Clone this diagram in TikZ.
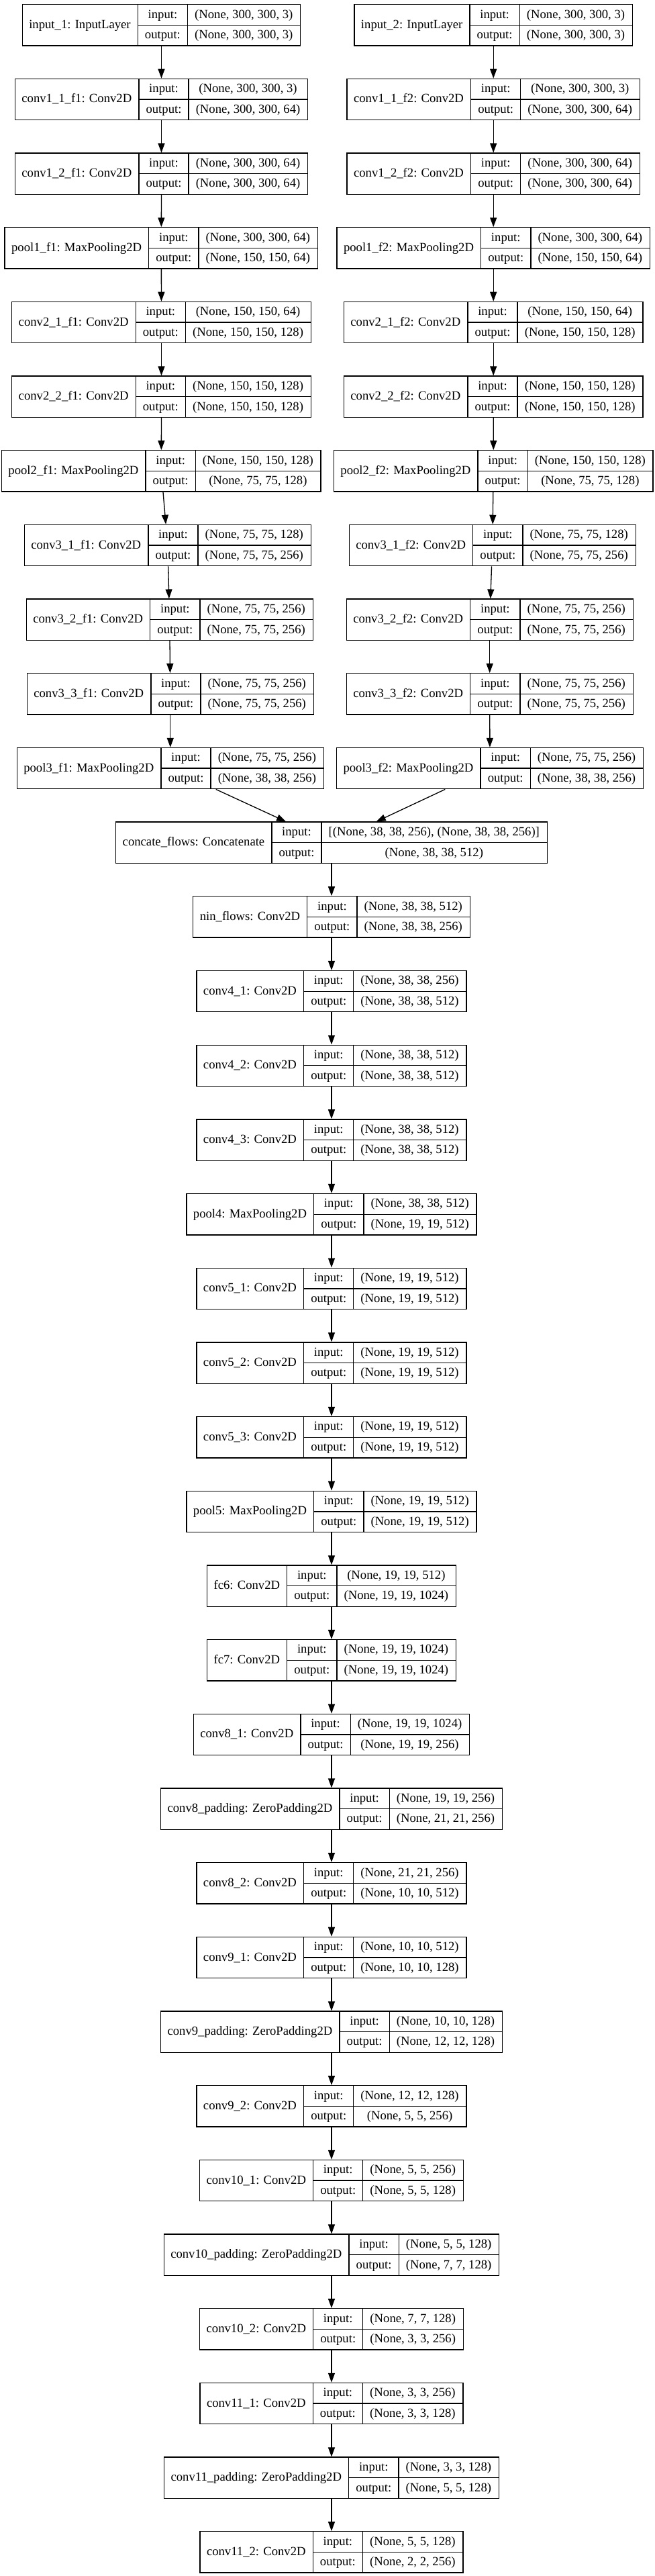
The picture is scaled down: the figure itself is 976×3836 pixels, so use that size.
\documentclass[tikz,border=0pt]{standalone}
\usepackage{fontspec}
\setmainfont{Liberation Serif}
\usetikzlibrary{arrows.meta}
\font\lfont="Liberation Serif" at 18.67pt
\newlength\lwa \newlength\lwb \newlength\lwc \newlength\lwd \newlength\lwt
% #1 node name, #2 centre x, #3 row index, #4 layer label, #5 input shape, #6 output shape
\newcommand\keraslayer[6]{%
  \settowidth\lwa{\lfont #4}\addtolength\lwa{21.3pt}%
  \settowidth\lwb{\lfont output:}\addtolength\lwb{21.3pt}%
  \settowidth\lwc{\lfont #5}\settowidth\lwd{\lfont #6}%
  \ifdim\lwd>\lwc \lwc=\lwd\fi
  \addtolength\lwc{21.3pt}%
  \lwt=\lwa \advance\lwt\lwb \advance\lwt\lwc
  \pgfmathsetmacro\toprow{6+110.68*#3}%
  \node[layerbox, minimum width=\lwt, anchor=north] (#1) at (#2,-\toprow) {};
  \draw[cellline] ([xshift=\lwa]#1.north west) -- ([xshift=\lwa]#1.south west);
  \draw[cellline] ([xshift=\lwa+\lwb]#1.north west) -- ([xshift=\lwa+\lwb]#1.south west);
  \draw[cellline] ([xshift=\lwa]#1.west) -- (#1.east);
  \node[txt] (#1-name) at ([xshift=0.5*\lwa, yshift=-5pt]#1.west) {#4};
  \node[txt] (#1-ik) at ([xshift=\lwa+0.5*\lwb, yshift=10.3pt]#1.west) {input:};
  \node[txt] (#1-ok) at ([xshift=\lwa+0.5*\lwb, yshift=-20.3pt]#1.west) {output:};
  \node[txt] (#1-iv) at ([xshift=\lwa+\lwb+0.5*\lwc, yshift=10.3pt]#1.west) {#5};
  \node[txt] (#1-ov) at ([xshift=\lwa+\lwb+0.5*\lwc, yshift=-20.3pt]#1.west) {#6};
}
\begin{document}
\begin{tikzpicture}[x=1pt,y=1pt,
  layerbox/.style={draw=black, line width=1.3pt, rectangle, inner sep=0pt, minimum height=61.3pt},
  cellline/.style={line width=1.3pt},
  txt/.style={font=\lfont, inner sep=0pt, anchor=base},
  edge/.style={line width=1.3pt, -{Triangle[length=14pt,width=10pt]}}]
\useasboundingbox[fill=white] (0,0) rectangle (976,-3836);

% ---- flow 1 ----
\keraslayer{inA}{240.5}{0}{input\_1: InputLayer}{(None, 300, 300, 3)}{(None, 300, 300, 3)}
\keraslayer{caA}{240.5}{1}{conv1\_1\_f1: Conv2D}{(None, 300, 300, 3)}{(None, 300, 300, 64)}
\keraslayer{cbA}{240.5}{2}{conv1\_2\_f1: Conv2D}{(None, 300, 300, 64)}{(None, 300, 300, 64)}
\keraslayer{paA}{240.3}{3}{pool1\_f1: MaxPooling2D}{(None, 300, 300, 64)}{(None, 150, 150, 64)}
\keraslayer{ccA}{240.5}{4}{conv2\_1\_f1: Conv2D}{(None, 150, 150, 64)}{(None, 150, 150, 128)}
\keraslayer{cdA}{240.5}{5}{conv2\_2\_f1: Conv2D}{(None, 150, 150, 128)}{(None, 150, 150, 128)}
\keraslayer{pbA}{240.3}{6}{pool2\_f1: MaxPooling2D}{(None, 150, 150, 128)}{(None, 75, 75, 128)}
\keraslayer{ceA}{249.8}{7}{conv3\_1\_f1: Conv2D}{(None, 75, 75, 128)}{(None, 75, 75, 256)}
\keraslayer{cfA}{252.7}{8}{conv3\_2\_f1: Conv2D}{(None, 75, 75, 256)}{(None, 75, 75, 256)}
\keraslayer{cgA}{253.8}{9}{conv3\_3\_f1: Conv2D}{(None, 75, 75, 256)}{(None, 75, 75, 256)}
\keraslayer{pcA}{253.8}{10}{pool3\_f1: MaxPooling2D}{(None, 75, 75, 256)}{(None, 38, 38, 256)}

% ---- flow 2 ----
\keraslayer{inB}{735.2}{0}{input\_2: InputLayer}{(None, 300, 300, 3)}{(None, 300, 300, 3)}
\keraslayer{caB}{735.2}{1}{conv1\_1\_f2: Conv2D}{(None, 300, 300, 3)}{(None, 300, 300, 64)}
\keraslayer{cbB}{735.2}{2}{conv1\_2\_f2: Conv2D}{(None, 300, 300, 64)}{(None, 300, 300, 64)}
\keraslayer{paB}{735.2}{3}{pool1\_f2: MaxPooling2D}{(None, 300, 300, 64)}{(None, 150, 150, 64)}
\keraslayer{ccB}{735.2}{4}{conv2\_1\_f2: Conv2D}{(None, 150, 150, 64)}{(None, 150, 150, 128)}
\keraslayer{cdB}{735.2}{5}{conv2\_2\_f2: Conv2D}{(None, 150, 150, 128)}{(None, 150, 150, 128)}
\keraslayer{pbB}{735.3}{6}{pool2\_f2: MaxPooling2D}{(None, 150, 150, 128)}{(None, 75, 75, 128)}
\keraslayer{ceB}{733.7}{7}{conv3\_1\_f2: Conv2D}{(None, 75, 75, 128)}{(None, 75, 75, 256)}
\keraslayer{cfB}{729.7}{8}{conv3\_2\_f2: Conv2D}{(None, 75, 75, 256)}{(None, 75, 75, 256)}
\keraslayer{cgB}{729.7}{9}{conv3\_3\_f2: Conv2D}{(None, 75, 75, 256)}{(None, 75, 75, 256)}
\keraslayer{pcB}{730}{10}{pool3\_f2: MaxPooling2D}{(None, 75, 75, 256)}{(None, 38, 38, 256)}

% ---- merged trunk ----
\def\mx{494}
\keraslayer{cat}{\mx}{11}{concate\_flows: Concatenate}{[(None, 38, 38, 256), (None, 38, 38, 256)]}{(None, 38, 38, 512)}
\keraslayer{nin}{\mx}{12}{nin\_flows: Conv2D}{(None, 38, 38, 512)}{(None, 38, 38, 256)}
\keraslayer{cfa}{\mx}{13}{conv4\_1: Conv2D}{(None, 38, 38, 256)}{(None, 38, 38, 512)}
\keraslayer{cfb}{\mx}{14}{conv4\_2: Conv2D}{(None, 38, 38, 512)}{(None, 38, 38, 512)}
\keraslayer{cfc}{\mx}{15}{conv4\_3: Conv2D}{(None, 38, 38, 512)}{(None, 38, 38, 512)}
\keraslayer{pfour}{\mx}{16}{pool4: MaxPooling2D}{(None, 38, 38, 512)}{(None, 19, 19, 512)}
\keraslayer{cva}{\mx}{17}{conv5\_1: Conv2D}{(None, 19, 19, 512)}{(None, 19, 19, 512)}
\keraslayer{cvb}{\mx}{18}{conv5\_2: Conv2D}{(None, 19, 19, 512)}{(None, 19, 19, 512)}
\keraslayer{cvc}{\mx}{19}{conv5\_3: Conv2D}{(None, 19, 19, 512)}{(None, 19, 19, 512)}
\keraslayer{pfive}{\mx}{20}{pool5: MaxPooling2D}{(None, 19, 19, 512)}{(None, 19, 19, 512)}
\keraslayer{fcsix}{\mx}{21}{fc6: Conv2D}{(None, 19, 19, 512)}{(None, 19, 19, 1024)}
\keraslayer{fcseven}{\mx}{22}{fc7: Conv2D}{(None, 19, 19, 1024)}{(None, 19, 19, 1024)}
\keraslayer{ceia}{\mx}{23}{conv8\_1: Conv2D}{(None, 19, 19, 1024)}{(None, 19, 19, 256)}
\keraslayer{ceip}{\mx}{24}{conv8\_padding: ZeroPadding2D}{(None, 19, 19, 256)}{(None, 21, 21, 256)}
\keraslayer{ceib}{\mx}{25}{conv8\_2: Conv2D}{(None, 21, 21, 256)}{(None, 10, 10, 512)}
\keraslayer{cnia}{\mx}{26}{conv9\_1: Conv2D}{(None, 10, 10, 512)}{(None, 10, 10, 128)}
\keraslayer{cnip}{\mx}{27}{conv9\_padding: ZeroPadding2D}{(None, 10, 10, 128)}{(None, 12, 12, 128)}
\keraslayer{cnib}{\mx}{28}{conv9\_2: Conv2D}{(None, 12, 12, 128)}{(None, 5, 5, 256)}
\keraslayer{ctea}{\mx}{29}{conv10\_1: Conv2D}{(None, 5, 5, 256)}{(None, 5, 5, 128)}
\keraslayer{ctep}{\mx}{30}{conv10\_padding: ZeroPadding2D}{(None, 5, 5, 128)}{(None, 7, 7, 128)}
\keraslayer{cteb}{\mx}{31}{conv10\_2: Conv2D}{(None, 7, 7, 128)}{(None, 3, 3, 256)}
\keraslayer{cela}{\mx}{32}{conv11\_1: Conv2D}{(None, 3, 3, 256)}{(None, 3, 3, 128)}
\keraslayer{celp}{\mx}{33}{conv11\_padding: ZeroPadding2D}{(None, 3, 3, 128)}{(None, 5, 5, 128)}
\keraslayer{celb}{\mx}{34}{conv11\_2: Conv2D}{(None, 5, 5, 128)}{(None, 2, 2, 256)}

% ---- connectors ----
\foreach \a/\b in {inA/caA, caA/cbA, cbA/paA, paA/ccA, ccA/cdA, cdA/pbA, pbA/ceA, ceA/cfA, cfA/cgA, cgA/pcA,
                   inB/caB, caB/cbB, cbB/paB, paB/ccB, ccB/cdB, cdB/pbB, pbB/ceB, ceB/cfB, cfB/cgB, cgB/pcB,
                   pcA/cat, pcB/cat, cat/nin, nin/cfa, cfa/cfb, cfb/cfc, cfc/pfour, pfour/cva, cva/cvb, cvb/cvc,
                   cvc/pfive, pfive/fcsix, fcsix/fcseven, fcseven/ceia, ceia/ceip, ceip/ceib, ceib/cnia, cnia/cnip,
                   cnip/cnib, cnib/ctea, ctea/ctep, ctep/cteb, cteb/cela, cela/celp, celp/celb}
  \draw[edge] (\a) -- (\b);
\end{tikzpicture}
\end{document}
